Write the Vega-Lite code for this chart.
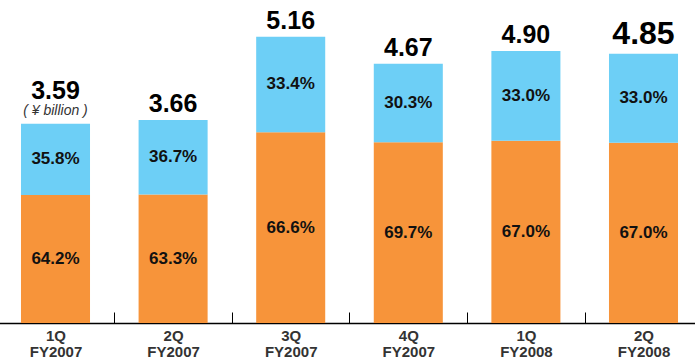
{
  "$schema": "https://vega.github.io/schema/vega-lite/v6.json",
  "width": 695,
  "height": 323,
  "padding": {"left": 0, "top": 0, "right": 0, "bottom": 35},
  "autosize": {"type": "none"},
  "background": "white",
  "config": {
    "view": {"stroke": null},
    "font": "Liberation Sans"
  },
  "data": {
    "values": [
      {"quarter": "1Q FY2007", "part": "lower", "rank": 1, "share": 64.2, "total": 3.59},
      {"quarter": "1Q FY2007", "part": "upper", "rank": 2, "share": 35.8, "total": 3.59},
      {"quarter": "2Q FY2007", "part": "lower", "rank": 1, "share": 63.3, "total": 3.66},
      {"quarter": "2Q FY2007", "part": "upper", "rank": 2, "share": 36.7, "total": 3.66},
      {"quarter": "3Q FY2007", "part": "lower", "rank": 1, "share": 66.6, "total": 5.16},
      {"quarter": "3Q FY2007", "part": "upper", "rank": 2, "share": 33.4, "total": 5.16},
      {"quarter": "4Q FY2007", "part": "lower", "rank": 1, "share": 69.7, "total": 4.67},
      {"quarter": "4Q FY2007", "part": "upper", "rank": 2, "share": 30.3, "total": 4.67},
      {"quarter": "1Q FY2008", "part": "lower", "rank": 1, "share": 67.0, "total": 4.90},
      {"quarter": "1Q FY2008", "part": "upper", "rank": 2, "share": 33.0, "total": 4.90},
      {"quarter": "2Q FY2008", "part": "lower", "rank": 1, "share": 67.0, "total": 4.85},
      {"quarter": "2Q FY2008", "part": "upper", "rank": 2, "share": 33.0, "total": 4.85}
    ]
  },
  "transform": [
    {"calculate": "datum.total * datum.share / 100", "as": "amount"},
    {"calculate": "format(datum.share, '.1f') + '%'", "as": "shareLabel"}
  ],
  "encoding": {
    "x": {
      "field": "quarter",
      "type": "nominal",
      "sort": null,
      "title": null,
      "scale": {"range": [-3.3, 702.3], "paddingInner": 0, "paddingOuter": 0},
      "axis": {
        "orient": "bottom",
        "labelAngle": 0,
        "labelExpr": "isString(datum.value) ? split(datum.value, ' ') : ''",
        "labelFont": "Liberation Sans",
        "labelFontWeight": "bold",
        "labelFontSize": 15,
        "labelColor": "#333333",
        "labelLineHeight": 16,
        "labelBaseline": "top",
        "labelPadding": 16,
        "domainColor": "#000000",
        "domainWidth": 1.6,
        "tickBand": "extent",
        "tickColor": "#000000",
        "tickWidth": 1,
        "tickSize": -11,
        "grid": false
      }
    }
  },
  "layer": [
    {
      "mark": {"type": "bar", "width": {"band": 0.587}},
      "encoding": {
        "y": {
          "field": "amount",
          "type": "quantitative",
          "stack": "zero",
          "scale": {"domain": [0, 5.82], "nice": false},
          "axis": null
        },
        "color": {
          "field": "part",
          "type": "nominal",
          "scale": {"domain": ["lower", "upper"], "range": ["#F7943A", "#6DCFF6"]},
          "legend": null
        },
        "order": {"field": "rank", "type": "quantitative"}
      }
    },
    {
      "mark": {"type": "text", "font": "Liberation Sans", "fontWeight": "bold", "fontSize": 17, "color": "#111111", "baseline": "middle"},
      "encoding": {
        "y": {"field": "amount", "type": "quantitative", "stack": "zero", "bandPosition": 0.5},
        "order": {"field": "rank", "type": "quantitative"},
        "text": {"field": "shareLabel"}
      }
    },
    {
      "transform": [{"filter": "datum.part == 'upper' && datum.quarter != '1Q FY2007' && datum.quarter != '2Q FY2008'"}],
      "mark": {"type": "text", "font": "Liberation Sans", "fontWeight": "bold", "fontSize": 25, "color": "#000000", "baseline": "alphabetic", "dy": -8},
      "encoding": {
        "y": {"field": "total", "type": "quantitative"},
        "text": {"field": "total", "format": ".2f"}
      }
    },
    {
      "transform": [{"filter": "datum.part == 'upper' && datum.quarter == '1Q FY2007'"}],
      "mark": {"type": "text", "font": "Liberation Sans", "fontWeight": "bold", "fontSize": 25, "color": "#000000", "baseline": "alphabetic", "dy": -25},
      "encoding": {
        "y": {"field": "total", "type": "quantitative"},
        "text": {"field": "total", "format": ".2f"}
      }
    },
    {
      "transform": [{"filter": "datum.part == 'upper' && datum.quarter == '1Q FY2007'"}],
      "mark": {"type": "text", "font": "Liberation Sans", "fontStyle": "italic", "fontSize": 14, "color": "#333333", "baseline": "alphabetic", "dy": -9},
      "encoding": {
        "y": {"field": "total", "type": "quantitative"},
        "text": {"value": "( ¥ billion )"}
      }
    },
    {
      "transform": [{"filter": "datum.part == 'upper' && datum.quarter == '2Q FY2008'"}],
      "mark": {"type": "text", "font": "Liberation Sans", "fontWeight": "bold", "fontSize": 32, "color": "#000000", "baseline": "alphabetic", "dy": -10},
      "encoding": {
        "y": {"field": "total", "type": "quantitative"},
        "text": {"field": "total", "format": ".2f"}
      }
    }
  ]
}
